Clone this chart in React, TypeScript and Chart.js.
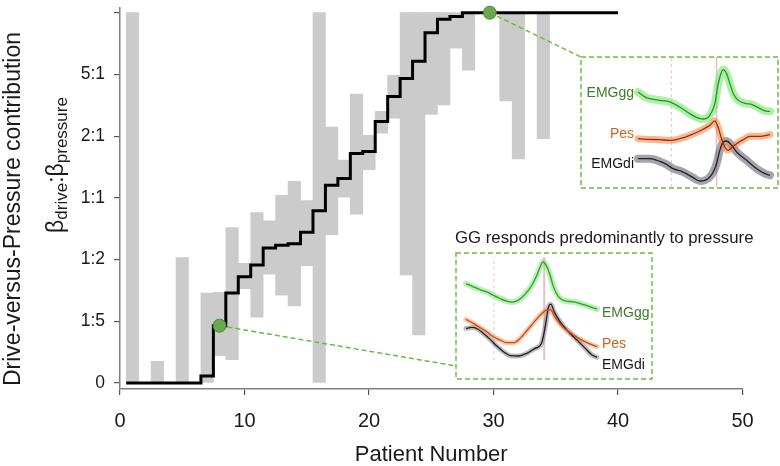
import React, { useEffect, useRef } from 'react';
import { Chart, registerables } from 'chart.js';

Chart.register(...registerables);

const FONT = '"Liberation Sans", Arial, Helvetica, sans-serif';

// ---------------- main chart data ----------------
const patients = [1, 2, 3, 4, 5, 6, 7, 8, 9, 10, 11, 12, 13, 14, 15, 16, 17, 18, 19, 20, 21, 22, 23, 24, 25, 26, 27, 28, 29, 30, 31, 32, 33, 34, 35, 36, 37, 38, 39, 40];
const estimate = [0, 0, 0, 0, 0, 0, 0.019, 0.155, 0.243, 0.287, 0.319, 0.365, 0.372, 0.376, 0.407, 0.465, 0.534, 0.552, 0.62, 0.625, 0.706, 0.774, 0.822, 0.869, 0.946, 0.982, 0.99, 1, 1, 1, 1, 1, 1, 1, 1, 1, 1, 1, 1, 1];
const lineStartX = 0.5;

const ciPatients = [1, 3, 5, 7, 8, 9, 10, 11, 12, 13, 14, 15, 16, 17, 18, 19, 20, 21, 22, 23, 24, 25, 26, 27, 28, 31, 32, 34];
const ciLow = [0, 0, 0, 0, 0.074, 0.063, 0.255, 0.178, 0.294, 0.237, 0.208, 0.317, 0, 0.401, 0.502, 0.456, 0.576, 0.675, 0.715, 0.292, 0.13, 0.725, 0.751, 0.904, 0.845, 0.762, 0.605, 0.66];
const ciHigh = [1, 0.059, 0.339, 0.243, 0.245, 0.42, 0.323, 0.46, 0.438, 0.507, 0.545, 0.493, 1, 0.691, 0.602, 0.78, 0.669, 0.734, 0.831, 1, 1, 1, 1, 1, 1, 1, 1, 1];

const highlightX = [8, 29.7];
const highlightY = [0.155, 1];

const yTickValues = [0, 1 / 6, 1 / 3, 1 / 2, 2 / 3, 5 / 6, 1];
const yTickLabels = ['0', '1:5', '1:2', '1:1', '2:1', '5:1', ''];
const xTickValues = [0, 10, 20, 30, 40, 50];

// ---------------- inset traces (time 0-100, amplitude 0-100) ----------------
const gg1X = [0, 6.3, 8.9, 16.5, 24.1, 31.6, 39.2, 46.8, 49.4, 54.4, 58.2, 60.8, 63.3, 64.6, 67.1, 69.6, 72.2, 75.9, 82.3, 86.1, 92.4, 96.2, 100];
const gg1Y = [73.1, 68.7, 67.9, 66.7, 65.4, 61.5, 56.4, 52.6, 52.3, 55.1, 64.1, 79.5, 88.5, 90.3, 87.2, 79.5, 71.8, 66.7, 64.1, 63.6, 60.3, 58.5, 58.2];
const pes1X = [0, 6.3, 16.5, 24.1, 31.6, 39.2, 46.8, 54.4, 58.2, 60.8, 63.3, 65.8, 68.4, 70.9, 74.7, 79.7, 84.8, 92.4, 100];
const pes1Y = [37.2, 36.7, 36.4, 35.9, 37.2, 39.7, 43.1, 47.4, 50.8, 45.6, 37.2, 30.8, 28.2, 30.3, 33.3, 36.4, 39.0, 39.0, 40.3];
const di1X = [0, 8.9, 16.5, 21.5, 26.6, 34.2, 41.8, 46.8, 50.6, 54.4, 57.0, 59.5, 62.0, 64.6, 67.1, 70.9, 74.7, 82.3, 89.9, 96.2, 100];
const di1Y = [21.8, 21.8, 19.7, 17.4, 14.1, 11.5, 7.2, 4.6, 5.1, 7.7, 11.5, 17.9, 28.2, 34.6, 35.4, 32.1, 26.9, 20.5, 14.1, 10.3, 9.0];
const inset1Markers = [25.3, 59.5];

const gg2X = [0, 5.6, 10.7, 15.8, 20.9, 26.0, 31.1, 34.9, 40.1, 45.2, 50.3, 54.1, 56.6, 58.7, 61.2, 63.8, 66.8, 70.7, 75.8, 82.1, 88.5, 94.9, 100];
const gg2Y = [74.2, 71.0, 68.4, 66.1, 62.9, 59.7, 57.1, 56.1, 58.1, 63.9, 72.6, 82.3, 90.3, 95.2, 91.9, 83.9, 71.0, 61.3, 57.4, 56.5, 54.2, 51.6, 49.4];
const pes2X = [0, 5.6, 10.7, 15.8, 20.9, 26.0, 31.1, 36.2, 41.3, 46.4, 51.5, 56.6, 61.2, 64.3, 68.1, 73.2, 79.6, 86.0, 92.3, 100];
const pes2Y = [39.4, 35.5, 31.6, 27.4, 22.6, 19.4, 16.8, 16.8, 21.0, 28.4, 36.1, 43.5, 48.4, 49.0, 41.3, 32.9, 26.5, 21.0, 16.8, 12.9];
const di2X = [0, 4.3, 8.2, 13.3, 18.4, 23.5, 28.6, 33.7, 40.1, 46.4, 52.8, 57.4, 60.5, 63.0, 64.8, 67.3, 71.9, 78.3, 84.7, 91.1, 96.2, 100];
const di2Y = [30.6, 31.6, 30.6, 25.8, 20.0, 13.5, 8.1, 4.2, 3.9, 6.5, 11.3, 15.5, 32.3, 51.6, 54.2, 46.8, 37.1, 27.4, 19.4, 11.3, 4.8, 2.6];
const inset2Markers = [21.4, 59.7];

const signalNames = ['EMGgg', 'Pes', 'EMGdi'];
const insetTitle = 'GG responds predominantly to pressure';

// ---------------- layout / style ----------------
const GREEN_DASH = '#6cba3e';
const LABEL_COLORS = ['#3d7b29', '#d5611f', '#151515'];
const BOX1 = { left: 581, top: 57, right: 778, bottom: 188 };
const BOX2 = { left: 456, top: 253, right: 652, bottom: 379 };
const CONNECT2_Y = 366;
const PLOT1 = { left: 638, top: 57, width: 132, height: 130 };
const PLOT2 = { left: 466, top: 257, width: 131, height: 103 };
const MARGIN = 8;

const decorPlugin = {
  id: 'decor',
  afterDatasetDraw(chart: any, args: any) {
    if (args.index !== 0) return;
    const ctx = chart.ctx;
    const xs = chart.scales.x;
    const ys = chart.scales.y;
    ctx.save();
    ctx.setLineDash([5, 3]);
    ctx.strokeStyle = GREEN_DASH;
    ctx.lineWidth = 1.5;
    ctx.beginPath();
    ctx.moveTo(xs.getPixelForValue(highlightX[1]), ys.getPixelForValue(highlightY[1]));
    ctx.lineTo(BOX1.left, BOX1.top);
    ctx.moveTo(xs.getPixelForValue(highlightX[0]), ys.getPixelForValue(highlightY[0]));
    ctx.lineTo(BOX2.left, CONNECT2_Y);
    ctx.stroke();
    ctx.restore();
  },
  afterDraw(chart: any) {
    const ctx = chart.ctx;
    ctx.save();
    ctx.setLineDash([5, 3]);
    ctx.strokeStyle = GREEN_DASH;
    ctx.lineWidth = 1.5;
    [BOX1, BOX2].forEach((b) => {
      ctx.strokeRect(b.left, b.top, b.right - b.left, b.bottom - b.top);
    });
    ctx.setLineDash([]);

    ctx.font = `14px ${FONT}`;
    ctx.textBaseline = 'alphabetic';
    ctx.textAlign = 'right';
    const b1 = [97, 138, 168];
    signalNames.forEach((s, i) => {
      ctx.fillStyle = LABEL_COLORS[i];
      ctx.fillText(s, 634, b1[i]);
    });
    ctx.textAlign = 'left';
    const b2 = [317, 348, 369];
    signalNames.forEach((s, i) => {
      ctx.fillStyle = LABEL_COLORS[i];
      ctx.fillText(s, 602, b2[i]);
    });

    ctx.fillStyle = '#1a1a1a';
    ctx.font = `16.8px ${FONT}`;
    ctx.fillText(insetTitle, 455, 243);

    ctx.textAlign = 'center';
    ctx.font = `22px ${FONT}`;
    ctx.fillText('Patient Number', (chart.chartArea.left + chart.chartArea.right) / 2, 461);

    ctx.save();
    ctx.translate(20, 209);
    ctx.rotate(-Math.PI / 2);
    ctx.font = `23px ${FONT}`;
    ctx.textAlign = 'center';
    ctx.fillText('Drive-versus-Pressure contribution', 0, 0);
    ctx.restore();

    ctx.save();
    ctx.translate(63, 165);
    ctx.rotate(-Math.PI / 2);
    ctx.textAlign = 'left';
    const parts: [string, number, number][] = [
      ['β', 23, 0], ['drive', 17, 4], [':', 23, 0], ['β', 23, 0], ['pressure', 17, 4],
    ];
    let total = 0;
    const widths = parts.map(([t, s]) => {
      ctx.font = `${s}px ${FONT}`;
      const w = ctx.measureText(t).width;
      total += w;
      return w;
    });
    let x = -total / 2;
    parts.forEach(([t, s, off], i) => {
      ctx.font = `${s}px ${FONT}`;
      ctx.fillText(t, x, off);
      x += widths[i];
    });
    ctx.restore();

    ctx.restore();
  },
};

function mainConfig(): any {
  const lineData = [{ x: lineStartX, y: estimate[0] }].concat(
    patients.map((p, i) => ({ x: p, y: estimate[i] }))
  );
  return {
    type: 'line',
    data: {
      datasets: [
        {
          type: 'bar',
          data: ciPatients.map((p, i) => ({ x: p, y: [ciLow[i], ciHigh[i]] })),
          backgroundColor: '#cbcbcb',
          borderWidth: 0,
          barPercentage: 1,
          categoryPercentage: 1,
          order: 3,
        },
        {
          type: 'line',
          data: lineData,
          borderColor: '#000',
          borderWidth: 3,
          stepped: 'middle',
          pointRadius: 0,
          fill: false,
          clip: false,
          order: 2,
        },
        {
          type: 'line',
          data: highlightX.map((x, i) => ({ x, y: highlightY[i] })),
          showLine: false,
          pointRadius: 6.5,
          pointBackgroundColor: '#6aa84f',
          pointBorderColor: '#4d8c33',
          pointBorderWidth: 1,
          clip: false,
          order: 1,
        },
      ],
    },
    options: {
      animation: false,
      responsive: false,
      events: [],
      layout: { padding: { left: 0, right: 37.5, top: 2, bottom: 0 } },
      plugins: { legend: { display: false }, tooltip: { enabled: false }, title: { display: false } },
      scales: {
        x: {
          type: 'linear',
          min: 0,
          max: 50,
          offset: false,
          afterFit: (s: any) => { s.height = 77; s.paddingLeft = 0; s.paddingRight = 0; },
          afterBuildTicks: (s: any) => { s.ticks = xTickValues.map((v) => ({ value: v })); },
          grid: { offset: false, drawOnChartArea: false, drawTicks: true, tickLength: 6, color: '#555', lineWidth: 1.2 },
          border: { display: true, color: '#808080', width: 1.5 },
          ticks: { font: { family: FONT, size: 20 }, color: '#1a1a1a', padding: 14, maxRotation: 0 },
        },
        y: {
          type: 'linear',
          min: -0.016,
          max: 1.014,
          afterFit: (s: any) => { s.width = 120; s.paddingTop = 0; s.paddingBottom = 0; },
          afterBuildTicks: (s: any) => { s.ticks = yTickValues.map((v) => ({ value: v })); },
          grid: { drawOnChartArea: false, drawTicks: true, tickLength: 6, color: '#555', lineWidth: 1.2 },
          border: { display: true, color: '#808080', width: 1.5 },
          ticks: {
            font: { family: FONT, size: 17.5 },
            color: '#1a1a1a',
            padding: 9,
            callback: (_v: any, i: number) => yTickLabels[i],
          },
        },
      },
    },
    plugins: [decorPlugin],
  };
}

type Trace = { x: number[]; y: number[]; line: string; band: string; bandWidth: number; lineWidth: number };

function insetConfig(traces: Trace[], markers: number[], w: number, h: number, markerWidth: number): any {
  const mx = (MARGIN / w) * 100;
  const my = (MARGIN / h) * 100;
  const datasets: any[] = [];
  markers.forEach((m, i) => {
    datasets.push({
      data: [{ x: m, y: 0 }, { x: m, y: 100 }],
      borderColor: i === 0 ? 'rgba(228,190,204,0.9)' : 'rgba(226,180,198,0.85)',
      borderWidth: i === 0 ? 1 : markerWidth,
      borderDash: i === 0 ? [3, 3] : [],
      pointRadius: 0,
      order: 100,
    });
  });
  traces.forEach((t) => {
    const pts = t.x.map((x, i) => ({ x, y: t.y[i] }));
    datasets.push({
      data: pts,
      borderColor: t.band,
      borderWidth: t.bandWidth,
      borderCapStyle: 'round',
      borderJoinStyle: 'round',
      cubicInterpolationMode: 'monotone',
      pointRadius: 0,
      order: 50,
    });
    datasets.push({
      data: pts,
      borderColor: t.line,
      borderWidth: t.lineWidth,
      cubicInterpolationMode: 'monotone',
      pointRadius: 0,
      order: 10,
    });
  });
  return {
    type: 'line',
    data: { datasets },
    options: {
      animation: false,
      responsive: false,
      events: [],
      layout: { padding: 0 },
      plugins: { legend: { display: false }, tooltip: { enabled: false } },
      scales: {
        x: { type: 'linear', display: false, min: -mx, max: 100 + mx },
        y: { type: 'linear', display: false, min: -my, max: 100 + my },
      },
    },
  };
}

const inset1Traces: Trace[] = [
  { x: gg1X, y: gg1Y, line: '#1f9a1f', band: 'rgba(110,225,100,0.55)', bandWidth: 8, lineWidth: 1.3 },
  { x: pes1X, y: pes1Y, line: '#9c2a12', band: 'rgba(242,140,70,0.6)', bandWidth: 7, lineWidth: 1.3 },
  { x: di1X, y: di1Y, line: '#222222', band: 'rgba(90,90,105,0.55)', bandWidth: 8, lineWidth: 1.3 },
];
const inset2Traces: Trace[] = [
  { x: gg2X, y: gg2Y, line: '#2b9f22', band: 'rgba(120,225,110,0.5)', bandWidth: 6, lineWidth: 1.3 },
  { x: pes2X, y: pes2Y, line: '#c9481a', band: 'rgba(242,150,90,0.5)', bandWidth: 5, lineWidth: 1.3 },
  { x: di2X, y: di2Y, line: '#1d1d1d', band: 'rgba(110,110,120,0.45)', bandWidth: 5, lineWidth: 1.3 },
];

export default function App() {
  const mainRef = useRef<HTMLCanvasElement>(null);
  const in1Ref = useRef<HTMLCanvasElement>(null);
  const in2Ref = useRef<HTMLCanvasElement>(null);

  useEffect(() => {
    const charts: Chart[] = [];
    charts.push(new Chart(mainRef.current as HTMLCanvasElement, mainConfig()));
    charts.push(new Chart(in1Ref.current as HTMLCanvasElement, insetConfig(inset1Traces, inset1Markers, PLOT1.width, PLOT1.height, 1.5)));
    charts.push(new Chart(in2Ref.current as HTMLCanvasElement, insetConfig(inset2Traces, inset2Markers, PLOT2.width, PLOT2.height, 2)));
    return () => charts.forEach((c) => c.destroy());
  }, []);

  const c1 = { left: PLOT1.left - MARGIN, top: PLOT1.top - MARGIN, w: PLOT1.width + 2 * MARGIN, h: PLOT1.height + 2 * MARGIN };
  const c2 = { left: PLOT2.left - MARGIN, top: PLOT2.top - MARGIN, w: PLOT2.width + 2 * MARGIN, h: PLOT2.height + 2 * MARGIN };

  return (
    <div style={{ position: 'absolute', left: 0, top: 0, width: 780, height: 466, background: '#ffffff', overflow: 'hidden' }}>
      <canvas ref={mainRef} width={780} height={466} style={{ position: 'absolute', left: 0, top: 0 }} />
      <canvas ref={in1Ref} width={c1.w} height={c1.h} style={{ position: 'absolute', left: c1.left, top: c1.top }} />
      <canvas ref={in2Ref} width={c2.w} height={c2.h} style={{ position: 'absolute', left: c2.left, top: c2.top }} />
    </div>
  );
}
